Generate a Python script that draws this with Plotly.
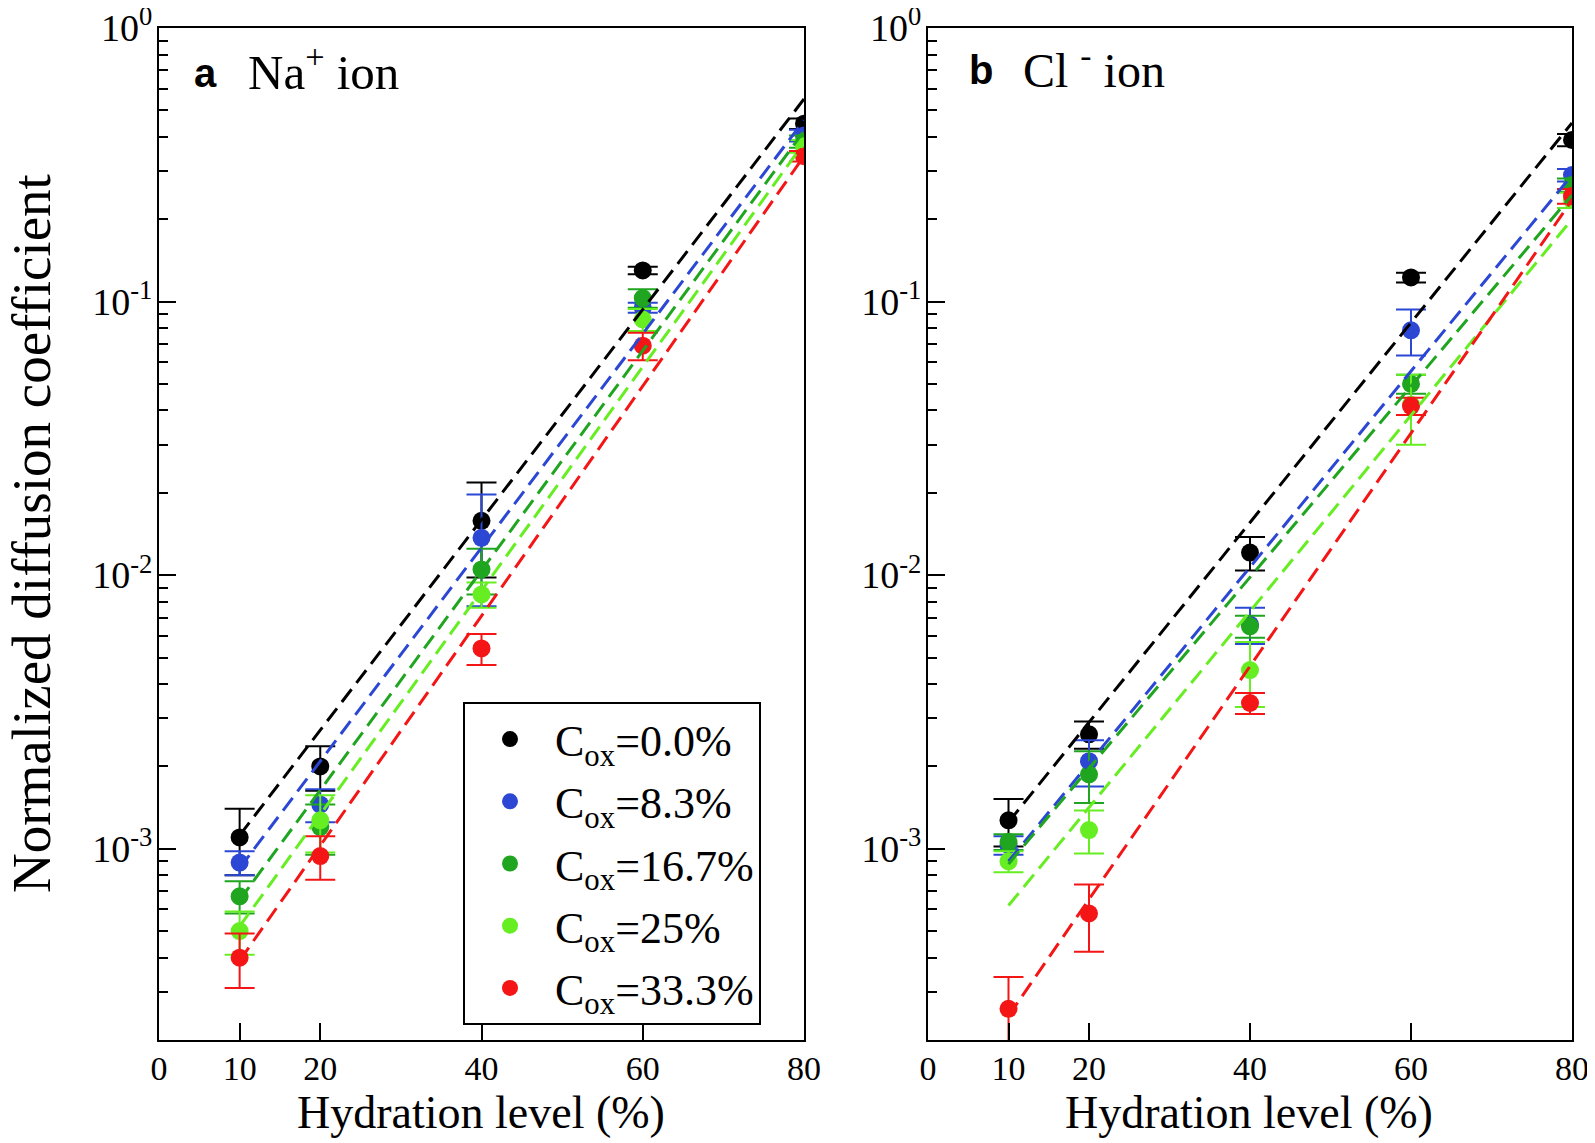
import plotly.graph_objects as go

# page body has an 8px margin: figure placed at (8, 8)
OFF = 8
W, H = 1595 - OFF, 1143 - OFF


def px(x):
    return (x - OFF) / W


def py(y):
    return 1 - (y - OFF) / H


hydration = [10, 20, 40, 60, 80]
fit_x = [10, 80]
series_labels = ["C<sub>ox</sub>=0.0%", "C<sub>ox</sub>=8.3%", "C<sub>ox</sub>=16.7%",
                 "C<sub>ox</sub>=25%", "C<sub>ox</sub>=33.3%"]
colors = ["#000000", "#2b47d3", "#1fa51f", "#66ee22", "#f41616"]

# Panel a: Na+ ion
na_c0 = [1.10e-3, 2.00e-3, 1.58e-2, 0.130, 0.447]
na_c0_err = [0.30e-3, 0.37e-3, 0.006, 0.004, 0.02]
na_c8 = [8.9e-4, 1.45e-3, 1.37e-2, 0.095, 0.405]
na_c8_err = [0.9e-4, 0.20e-3, 0.006, 0.004, 0.02]
na_c17 = [6.7e-4, 1.20e-3, 1.05e-2, 0.103, 0.385]
na_c17_err = [0.9e-4, 0.25e-3, 0.002, 0.008, 0.02]
na_c25 = [5.0e-4, 1.27e-3, 8.5e-3, 0.086, 0.370]
na_c25_err = [0.9e-4, 0.30e-3, 0.0009, 0.008, 0.02]
na_c33 = [4.0e-4, 9.4e-4, 5.4e-3, 0.069, 0.340]
na_c33_err = [0.9e-4, 0.17e-3, 0.0007, 0.008, 0.015]

na_fit_c0 = [1.12e-3, 0.55]
na_fit_c8 = [8.5e-4, 0.46]
na_fit_c17 = [6.5e-4, 0.42]
na_fit_c25 = [5.2e-4, 0.38]
na_fit_c33 = [3.9e-4, 0.34]

# Panel b: Cl- ion
cl_c0 = [1.27e-3, 2.62e-3, 0.0121, 0.1225, 0.390]
cl_c0_err = [0.25e-3, 0.30e-3, 0.0017, 0.005, 0.02]
cl_c8 = [1.03e-3, 2.09e-3, 6.6e-3, 0.0785, 0.290]
cl_c8_err = [0.08e-3, 0.40e-3, 1.0e-3, 0.015, 0.015]
cl_c17 = [1.06e-3, 1.87e-3, 6.5e-3, 0.050, 0.267]
cl_c17_err = [0.07e-3, 0.40e-3, 0.6e-3, 0.004, 0.015]
cl_c25 = [9.0e-4, 1.17e-3, 4.5e-3, 0.042, 0.235]
cl_c25_err = [0.08e-3, 0.21e-3, 1.2e-3, 0.012, 0.015]
cl_c33 = [2.6e-4, 5.8e-4, 3.41e-3, 0.0415, 0.243]
cl_c33_err = [0.8e-4, 1.6e-4, 0.3e-3, 0.003, 0.015]

cl_fit_c0 = [1.25e-3, 0.45]
cl_fit_c8 = [9.0e-4, 0.29]
cl_fit_c17 = [8.8e-4, 0.245]
cl_fit_c25 = [6.2e-4, 0.20]
cl_fit_c33 = [2.45e-4, 0.235]

x_tickvals = [0, 10, 20, 40, 60, 80]
x_ticktext = ["0", "10", "20", "40", "60", "80"]
y_tickvals = [1e-3, 1e-2, 1e-1, 1]
y_ticktext = ["10<sup>-3</sup>", "10<sup>-2</sup>", "10<sup>-1</sup>", "10<sup>0</sup>"]

na_vals = [na_c0, na_c8, na_c17, na_c25, na_c33]
na_errs = [na_c0_err, na_c8_err, na_c17_err, na_c25_err, na_c33_err]
na_fits = [na_fit_c0, na_fit_c8, na_fit_c17, na_fit_c25, na_fit_c33]
cl_vals = [cl_c0, cl_c8, cl_c17, cl_c25, cl_c33]
cl_errs = [cl_c0_err, cl_c8_err, cl_c17_err, cl_c25_err, cl_c33_err]
cl_fits = [cl_fit_c0, cl_fit_c8, cl_fit_c17, cl_fit_c25, cl_fit_c33]

SERIF = "Liberation Serif, Times New Roman, serif"
SANS = "Liberation Sans, Arial, sans-serif"

fig = go.Figure()

panels = [("x", "y", na_vals, na_errs, na_fits, True),
          ("x2", "y2", cl_vals, cl_errs, cl_fits, False)]
for xa, ya, vals, errs, fits, show in panels:
    for i in range(5):
        fig.add_trace(go.Scatter(
            x=hydration, y=vals[i], xaxis=xa, yaxis=ya, mode="markers",
            name=series_labels[i], legendgroup="g%d" % i, showlegend=show,
            marker=dict(color=colors[i], size=18, line=dict(width=0)),
            error_y=dict(type="data", array=errs[i], color=colors[i],
                         thickness=2, width=15),
        ))
    for i in range(5):
        fig.add_trace(go.Scatter(
            x=fit_x, y=fits[i], xaxis=xa, yaxis=ya, mode="lines",
            showlegend=False, hoverinfo="skip",
            line=dict(color=colors[i], width=3, dash="16px,8px"),
        ))

xdom1 = [px(159), px(804)]
xdom2 = [px(928), px(1572)]
ydom = [py(1040), py(28)]

axis_common = dict(showline=True, linecolor="black", linewidth=2, mirror=True,
                   showgrid=False, zeroline=False, ticks="inside", tickcolor="black",
                   tickwidth=2, automargin=False, ticklabeloverflow="allow")

xcommon = dict(axis_common, range=[0, 80], tickvals=x_tickvals, ticktext=x_ticktext,
               ticklen=17, tickfont=dict(family=SERIF, size=34, color="black"),
               ticklabelstandoff=-3)
ycommon = dict(axis_common, type="log", range=[-3.699, 0], tickvals=y_tickvals,
               ticktext=y_ticktext, ticklen=17,
               tickfont=dict(family=SERIF, size=38, color="black"),
               ticklabelstandoff=-3,
               minor=dict(ticks="inside", ticklen=9, tickwidth=2, tickcolor="black",
                          dtick="D1", showgrid=False))

fig.update_layout(
    width=W, height=H,
    margin=dict(l=0, r=0, t=0, b=0),
    paper_bgcolor="white", plot_bgcolor="white",
    xaxis=dict(xcommon, domain=xdom1, anchor="y"),
    yaxis=dict(ycommon, domain=ydom, anchor="x"),
    xaxis2=dict(xcommon, domain=xdom2, anchor="y2"),
    yaxis2=dict(ycommon, domain=ydom, anchor="x2"),
    legend=dict(x=px(463), y=py(702), xanchor="left", yanchor="top",
                bgcolor="white", bordercolor="black", borderwidth=2,
                font=dict(family=SERIF, size=44, color="black"),
                tracegroupgap=2, itemsizing="trace", itemwidth=80),
    showlegend=True,
)

annotations = [
    dict(text="Normalized diffusion coefficient", x=px(31), y=py(534),
         textangle=-90, font=dict(family=SERIF, size=55, color="black")),
    dict(text="Hydration level (%)", x=px(481), y=py(1112),
         font=dict(family=SERIF, size=46, color="black")),
    dict(text="Hydration level (%)", x=px(1249), y=py(1112),
         font=dict(family=SERIF, size=46, color="black")),
    dict(text="<b>a</b>", x=px(205), y=py(73),
         font=dict(family=SANS, size=40, color="black")),
    dict(text="Na<sup>+</sup> ion", x=px(246), y=py(69), xanchor="left",
         font=dict(family=SERIF, size=49, color="black")),
    dict(text="<b>b</b>", x=px(981), y=py(70),
         font=dict(family=SANS, size=40, color="black")),
    dict(text="Cl <sup>-</sup> ion", x=px(1021), y=py(67), xanchor="left",
         font=dict(family=SERIF, size=48, color="black")),
]
for a in annotations:
    a.setdefault("xanchor", "center")
    a.update(xref="paper", yref="paper", showarrow=False, yanchor="middle")
fig.update_layout(annotations=annotations)

fig.write_html("out.html")
